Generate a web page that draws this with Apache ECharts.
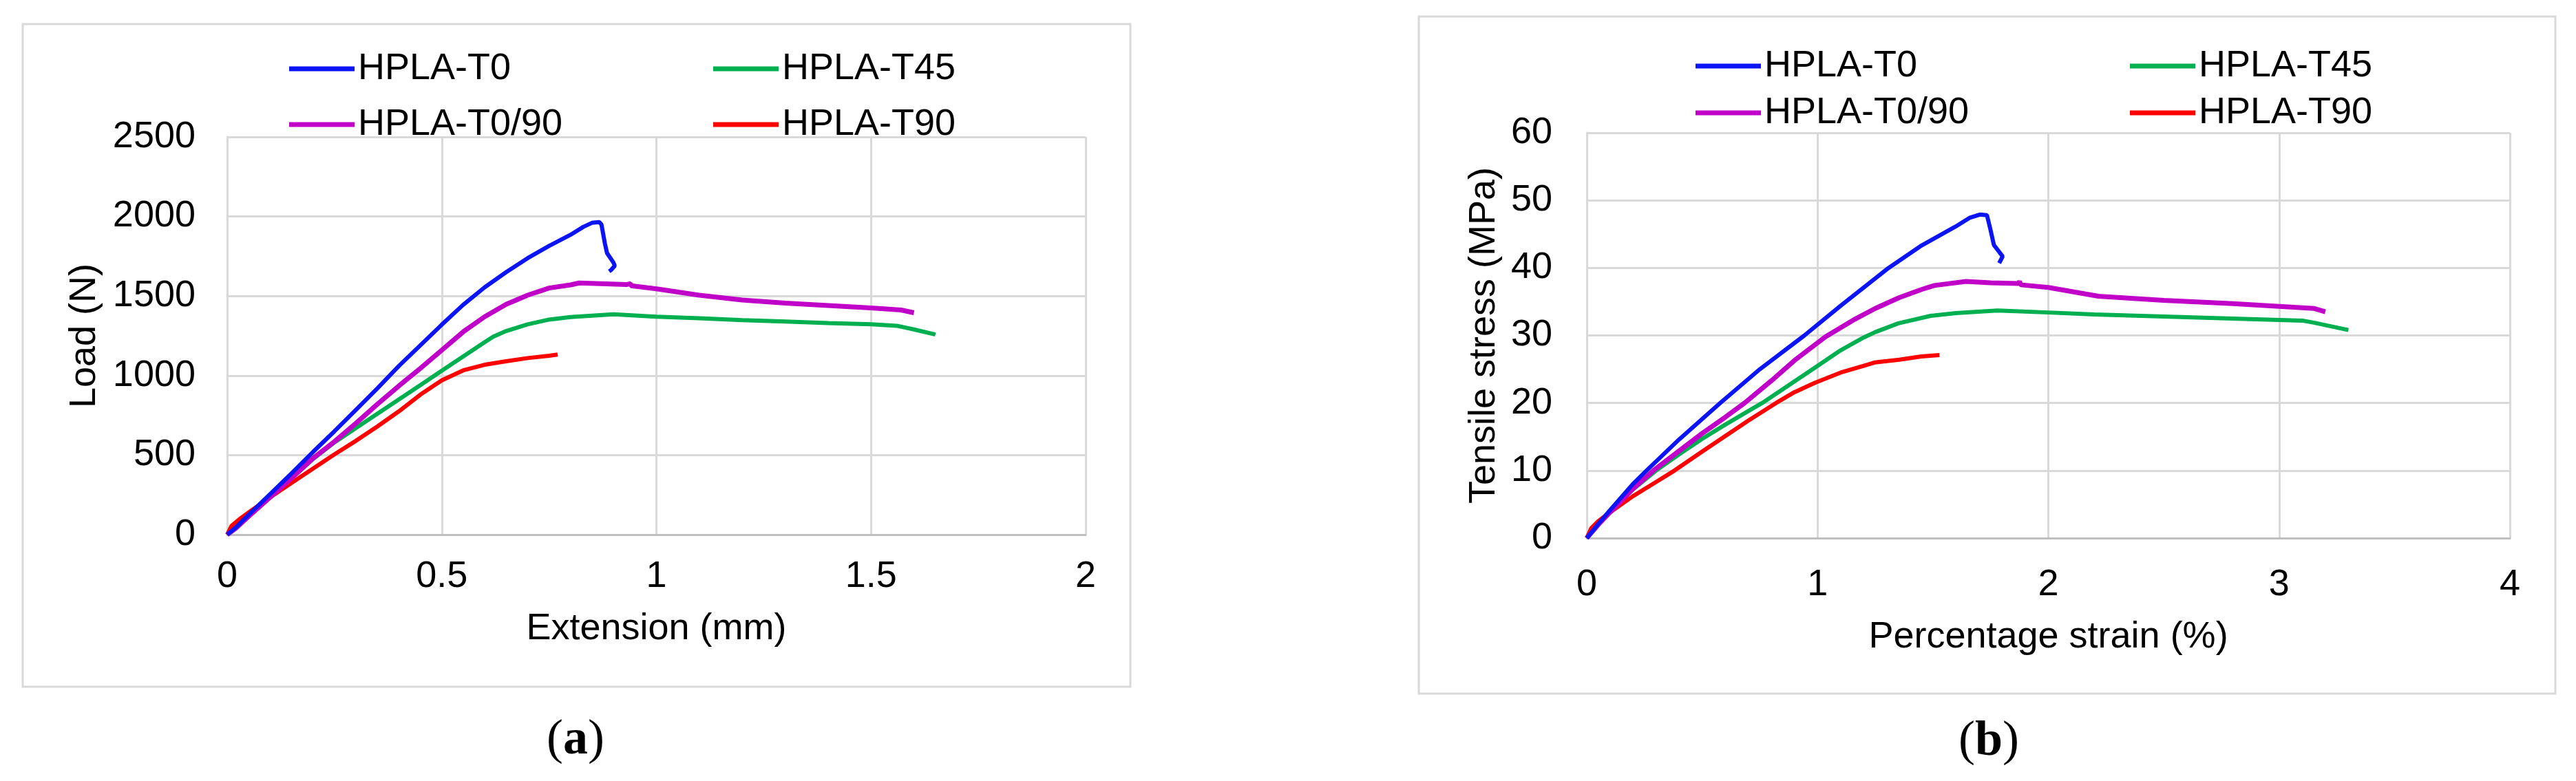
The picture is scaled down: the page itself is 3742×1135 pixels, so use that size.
<!DOCTYPE html>
<html>
<head>
<meta charset="utf-8">
<script src="https://cdn.jsdelivr.net/npm/echarts@6/dist/echarts.min.js"></script>
<style>
html,body{margin:0;padding:0;background:#fff;}
#c{width:3742px;height:1135px;}
</style>
</head>
<body>
<div id="c"></div>
<script>
// ---------- DATA ----------
const seriesNames = ['HPLA-T0', 'HPLA-T45', 'HPLA-T0/90', 'HPLA-T90'];
const seriesColors = ['#0A14F5', '#00B050', '#C000C8', '#FF0000'];

const xTicksA = [0, 0.5, 1, 1.5, 2];
const yTicksA = [0, 500, 1000, 1500, 2000, 2500];
const xTicksB = [0, 1, 2, 3, 4];
const yTicksB = [0, 10, 20, 30, 40, 50, 60];

// (a) Load (N) vs Extension (mm)
const loadT0 = [[0,0],[0.02,45],[0.05,125],[0.1,255],[0.15,385],[0.2,520],[0.25,650],[0.3,785],[0.35,920],[0.4,1060],[0.45,1190],[0.5,1320],[0.55,1445],[0.6,1555],[0.65,1650],[0.7,1738],[0.75,1815],[0.8,1885],[0.83,1935],[0.85,1960],[0.867,1965],[0.872,1950],[0.88,1830],[0.885,1770],[0.9,1710],[0.903,1690],[0.895,1665],[0.89,1655]];
const loadT45 = [[0,0],[0.02,40],[0.05,115],[0.1,235],[0.15,355],[0.2,475],[0.25,580],[0.3,670],[0.35,760],[0.4,850],[0.45,940],[0.5,1030],[0.55,1120],[0.6,1210],[0.62,1245],[0.65,1280],[0.7,1322],[0.75,1352],[0.8,1368],[0.9,1385],[1.0,1370],[1.1,1360],[1.2,1348],[1.3,1340],[1.4,1330],[1.5,1322],[1.56,1313],[1.6,1290],[1.65,1258]];
const loadT090 = [[0,0],[0.02,40],[0.05,115],[0.1,235],[0.15,355],[0.2,480],[0.25,585],[0.3,700],[0.35,820],[0.4,935],[0.45,1045],[0.5,1160],[0.55,1275],[0.6,1370],[0.65,1448],[0.7,1505],[0.75,1550],[0.8,1570],[0.82,1582],[0.87,1578],[0.93,1572],[0.94,1578],[0.941,1565],[1.0,1545],[1.1,1505],[1.2,1475],[1.3,1455],[1.4,1440],[1.5,1425],[1.57,1412],[1.6,1395]];
const loadT90 = [[0,0],[0.01,55],[0.03,100],[0.05,140],[0.1,235],[0.15,325],[0.2,415],[0.25,505],[0.3,590],[0.35,680],[0.4,775],[0.45,880],[0.5,970],[0.55,1033],[0.6,1068],[0.65,1090],[0.7,1110],[0.75,1125],[0.77,1132]];

// (b) Tensile stress (MPa) vs Percentage strain (%)
const stressT0 = [[0,0],[0.05,2.1],[0.1,4.1],[0.2,8],[0.259,10],[0.4,14.6],[0.578,20],[0.75,25],[0.943,30],[1.1,34.4],[1.3,39.8],[1.445,43.2],[1.597,46.1],[1.658,47.4],[1.703,47.9],[1.734,47.8],[1.749,45.7],[1.764,43.4],[1.802,41.7],[1.787,40.7]];
const stressT45 = [[0,0],[0.05,2],[0.1,3.8],[0.2,7.2],[0.3,10],[0.4,12.4],[0.5,14.7],[0.6,16.8],[0.7,18.8],[0.76,20],[0.9,23.2],[1.0,25.5],[1.1,27.8],[1.2,29.7],[1.25,30.5],[1.35,31.8],[1.49,32.9],[1.6,33.3],[1.78,33.7],[2.0,33.4],[2.2,33.1],[2.5,32.8],[2.8,32.5],[3.1,32.2],[3.15,31.9],[3.3,30.8]];
const stressT090 = [[0,0],[0.05,2],[0.1,3.8],[0.2,7.3],[0.289,10],[0.4,12.9],[0.5,15.5],[0.6,17.9],[0.684,20],[0.8,23.3],[0.9,26.3],[1.034,29.8],[1.156,32.3],[1.25,34.0],[1.354,35.6],[1.45,36.8],[1.506,37.4],[1.643,38.0],[1.75,37.8],[1.87,37.7],[1.875,38.0],[1.88,37.5],[2.0,37.1],[2.217,35.8],[2.5,35.2],[2.8,34.7],[3.0,34.3],[3.15,34.0],[3.2,33.5]];
const stressT90 = [[0,0],[0.02,1.5],[0.05,2.5],[0.1,3.8],[0.2,6.2],[0.3,8.3],[0.38,10],[0.5,12.8],[0.6,15.1],[0.7,17.4],[0.82,20],[0.9,21.6],[0.989,23.0],[1.1,24.5],[1.2,25.5],[1.247,26.0],[1.354,26.4],[1.45,26.9],[1.528,27.1]];

const axisTitles = ['Extension (mm)', 'Load (N)', 'Percentage strain (%)', 'Tensile stress (MPa)'];
const panelLabels = ['a', 'b'];

// ---------- CHART ----------
const FONT = '"Liberation Sans", Arial, sans-serif';
const SERIF = '"Liberation Serif", "Times New Roman", serif';
const gridColor = '#d9d9d9';
const FS = 54;

function xAxis(idx, ticks, nameText, margin, gap) {
  return {
    type: 'value', gridIndex: idx,
    min: ticks[0], max: ticks[ticks.length - 1], interval: ticks[1] - ticks[0],
    name: nameText, nameLocation: 'middle', nameGap: gap,
    nameTextStyle: {fontFamily: FONT, fontSize: FS, color: '#000'},
    axisLine: {show: true, lineStyle: {color: '#bfbfbf', width: 3}},
    axisTick: {show: false},
    axisLabel: {fontFamily: FONT, fontSize: FS, color: '#000', margin: margin, formatter: v => String(v)},
    splitLine: {show: true, lineStyle: {color: gridColor, width: 3}}
  };
}
function yAxis(idx, ticks, nameText, margin, gap) {
  return {
    type: 'value', gridIndex: idx,
    min: ticks[0], max: ticks[ticks.length - 1], interval: ticks[1] - ticks[0],
    name: nameText, nameLocation: 'middle', nameGap: gap,
    nameTextStyle: {fontFamily: FONT, fontSize: FS, color: '#000'},
    axisLine: {show: true, lineStyle: {color: gridColor, width: 3}},
    axisTick: {show: false},
    axisLabel: {fontFamily: FONT, fontSize: FS, color: '#000', margin: margin, formatter: v => String(v)},
    splitLine: {show: true, lineStyle: {color: gridColor, width: 3}}
  };
}
function lineSeries(name, data, idx, color, w) {
  return {
    type: 'line', name: name, data: data,
    xAxisIndex: idx, yAxisIndex: idx,
    showSymbol: false, symbol: 'none', smooth: false,
    color: color,
    lineStyle: {color: color, width: w},
    z: 3
  };
}
function legend(names, left, top, gap) {
  return {
    data: names, orient: 'vertical', left: left, top: top,
    itemGap: gap, itemWidth: 95, itemHeight: 7, icon: 'rect',
    textStyle: {fontFamily: FONT, fontSize: FS, color: '#000'},
    selectedMode: false
  };
}
function panelText(x, y, letter) {
  return {
    type: 'text', x: x, y: y, silent: true,
    style: {
      text: '({b|' + letter + '})',
      rich: {b: {fontWeight: 'bold', fontFamily: SERIF, fontSize: 72, fill: '#000'}},
      fontFamily: SERIF, fontSize: 72, fill: '#000',
      textAlign: 'center', textVerticalAlign: 'middle'
    }
  };
}

const chart = echarts.init(document.getElementById('c'), null, {renderer: 'canvas'});
chart.setOption({
  animation: false,
  backgroundColor: '#fff',
  grid: [
    {left: 330, top: 199, width: 1247, height: 578},
    {left: 2305, top: 193, width: 1341, height: 589}
  ],
  xAxis: [
    xAxis(0, xTicksA, axisTitles[0], 34, 110),
    xAxis(1, xTicksB, axisTitles[2], 41, 117)
  ],
  yAxis: [
    yAxis(0, yTicksA, axisTitles[1], 46, 180),
    yAxis(1, yTicksB, axisTitles[3], 50, 122)
  ],
  legend: [
    legend([seriesNames[0], seriesNames[2]], 415, 68, 27),
    legend([seriesNames[1], seriesNames[3]], 1031, 68, 27),
    legend([seriesNames[0], seriesNames[2]], 2458, 64, 14),
    legend([seriesNames[1], seriesNames[3]], 3089, 64, 14)
  ],
  series: [
    lineSeries(seriesNames[1], loadT45, 0, seriesColors[1], 6),
    lineSeries(seriesNames[3], loadT90, 0, seriesColors[3], 6),
    lineSeries(seriesNames[2], loadT090, 0, seriesColors[2], 7),
    lineSeries(seriesNames[0], loadT0, 0, seriesColors[0], 6),
    lineSeries(seriesNames[1], stressT45, 1, seriesColors[1], 6),
    lineSeries(seriesNames[3], stressT90, 1, seriesColors[3], 6),
    lineSeries(seriesNames[2], stressT090, 1, seriesColors[2], 7),
    lineSeries(seriesNames[0], stressT0, 1, seriesColors[0], 6)
  ],
  graphic: [
    {type: 'rect', shape: {x: 33, y: 35, width: 1609, height: 963}, style: {fill: null, stroke: gridColor, lineWidth: 3}, z: 0, silent: true},
    {type: 'rect', shape: {x: 2061, y: 24, width: 1651, height: 984}, style: {fill: null, stroke: gridColor, lineWidth: 3}, z: 0, silent: true},
    panelText(836, 1076, panelLabels[0]),
    panelText(2889, 1078, panelLabels[1])
  ]
});
</script>
</body>
</html>
